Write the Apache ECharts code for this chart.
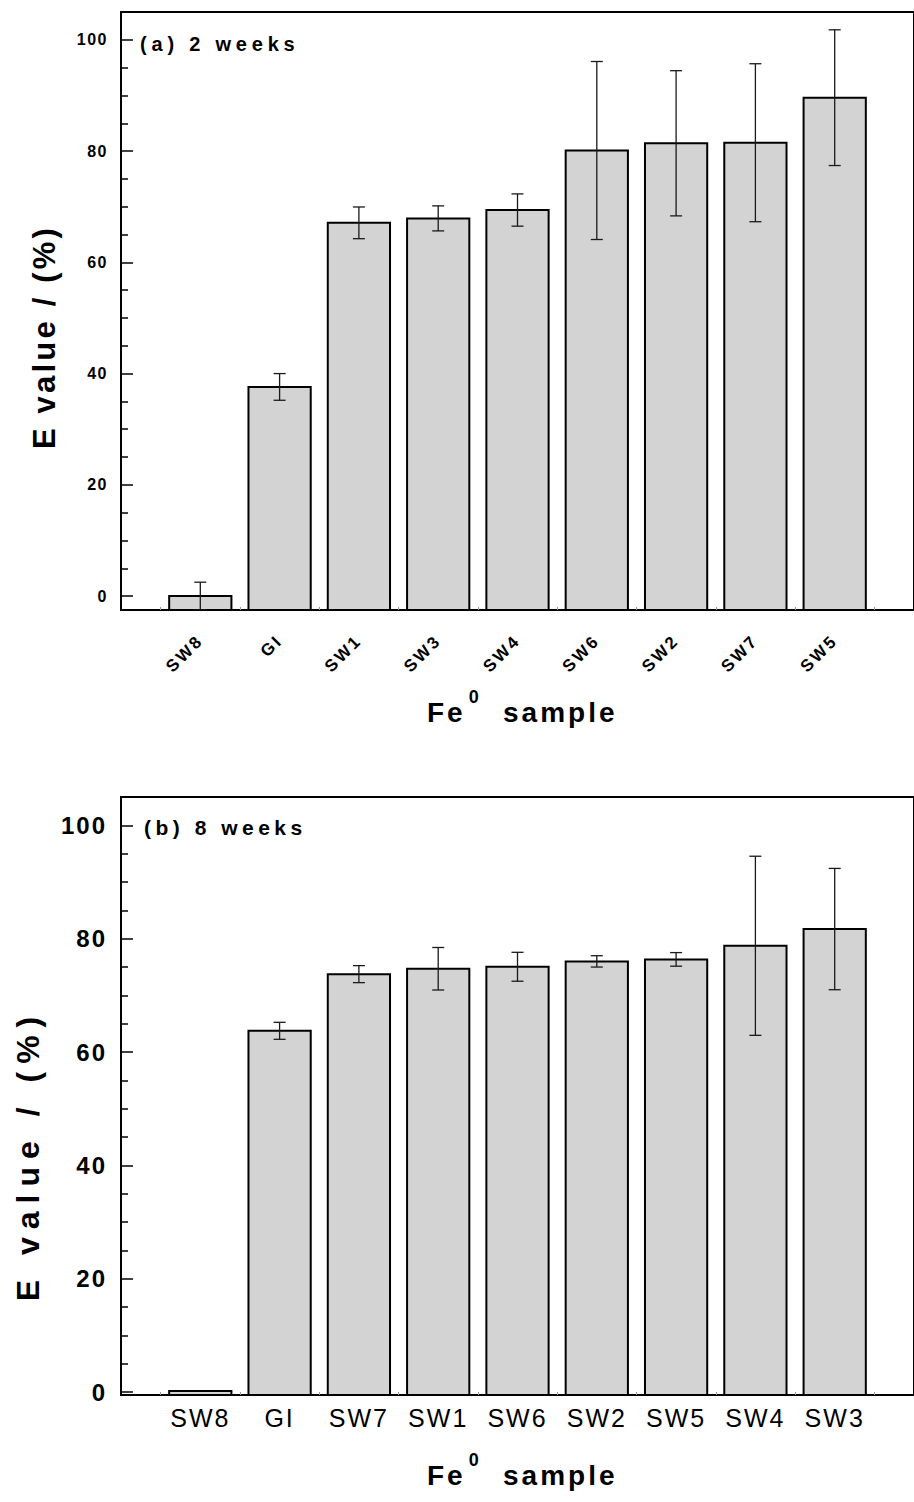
<!DOCTYPE html>
<html>
<head>
<meta charset="utf-8">
<script src="https://cdn.jsdelivr.net/npm/echarts@6.0.0/dist/echarts.min.js"></script>
<style>
html, body { margin: 0; padding: 0; background: #fff; }
#c { width: 914px; height: 1502px; }
#c text[style*="16px"] { letter-spacing: 1.5px; }
#c text[style*="24px"] { letter-spacing: 2px; }
#c text[style*="17px"] { letter-spacing: 2.5px; }
#c text[style*="28px"] { letter-spacing: 3px; }
#c text[style*="31px"] { letter-spacing: 3.2px; }
#c text[style*="32px"] { letter-spacing: 8px; }
#c text[style*="20px"] { letter-spacing: 4.8px; }
#c text[style*="21px"] { letter-spacing: 4.5px; }
#c text[style*="25px"] { letter-spacing: 2px; }
</style>
</head>
<body>
<div id="c"></div>
<script>
// ---- data ----
const categoriesA = ['SW8', 'GI', 'SW1', 'SW3', 'SW4', 'SW6', 'SW2', 'SW7', 'SW5'];
const valuesA = [0.0, 37.6, 67.1, 67.9, 69.4, 80.1, 81.4, 81.5, 89.6];
const errorsA = [2.5, 2.4, 2.85, 2.25, 2.9, 16.0, 13.05, 14.2, 12.2];

const categoriesB = ['SW8', 'GI', 'SW7', 'SW1', 'SW6', 'SW2', 'SW5', 'SW4', 'SW3'];
const valuesB = [0.2, 63.75, 73.75, 74.7, 75.05, 76.0, 76.35, 78.75, 81.7];
const errorsB = [0, 1.5, 1.5, 3.75, 2.55, 1.0, 1.2, 15.8, 10.7];

const yMajorTicks = [0, 20, 40, 60, 80, 100];
const yMinorTicks = [5, 10, 15, 25, 30, 35, 45, 50, 55, 65, 70, 75, 85, 90, 95];
const xSmallTicks = [0.5, 1, 1.5, 2, 2.5, 3, 3.5, 4, 4.5, 5, 5.5, 6, 6.5, 7, 7.5, 8, 8.5, 9, 9.5];

const titleA = '(a) 2 weeks';
const titleB = '(b) 8 weeks';
const yName = 'E value / (%)';

// ---- chart ----
const FONT = "'Liberation Sans', Arial, Helvetica, sans-serif";
const chart = echarts.init(document.getElementById('c'), null, { renderer: 'svg' });

const barPosA = categoriesA.map((_, i) => i + 1);
const barPosB = categoriesB.map((_, i) => i + 1);

function renderBar(params, api) {
  const x = api.value(0), v = api.value(1);
  const cs = params.coordSys;
  const p = api.coord([x, v]);
  const w = api.size([1, 0])[0] * 0.785;
  const bottom = cs.y + cs.height;
  return {
    type: 'rect',
    shape: { x: p[0] - w / 2, y: p[1], width: w, height: bottom - p[1] },
    style: { fill: '#d3d3d3', stroke: '#000', lineWidth: 2 }
  };
}

function renderErr(params, api) {
  const x = api.value(0), v = api.value(1), e = api.value(2);
  if (!e) return null;
  const t = api.coord([x, v + e]);
  const b = api.coord([x, v - e]);
  const hw = 6;
  const st = { stroke: '#1a1a1a', lineWidth: 1.3 };
  return {
    type: 'group',
    children: [
      { type: 'line', shape: { x1: t[0], y1: t[1], x2: b[0], y2: b[1] }, style: st },
      { type: 'line', shape: { x1: t[0] - hw, y1: t[1], x2: t[0] + hw, y2: t[1] }, style: st },
      { type: 'line', shape: { x1: b[0] - hw, y1: b[1], x2: b[0] + hw, y2: b[1] }, style: st }
    ]
  };
}

function xAxisCfg(gridIndex, cats, pos, rotated, nameGap) {
  return {
    gridIndex: gridIndex,
    type: 'value',
    min: 0,
    max: 10,
    axisLine: { show: true, onZero: false, lineStyle: { color: '#000', width: 2 } },
    axisTick: { show: true, inside: true, length: 3, customValues: xSmallTicks, lineStyle: { color: '#999', width: 1 } },
    axisLabel: rotated ? {
      customValues: pos,
      formatter: v => cats[Math.round(v) - 1],
      rotate: 45,
      margin: 28,
      fontSize: 17,
      fontWeight: 'bold',
      color: '#000',
      fontFamily: FONT
    } : {
      customValues: pos,
      formatter: v => cats[Math.round(v) - 1],
      margin: 10,
      fontSize: 25,
      color: '#000',
      fontFamily: FONT
    },
    splitLine: { show: false },
    name: '{f1|Fe}{s|0}{f2| sample}',
    nameLocation: 'middle',
    nameGap: nameGap,
    nameTextStyle: {
      rich: {
        f1: { fontSize: 28, fontWeight: 'bold', color: '#000', fontFamily: FONT, lineHeight: 48, padding: [0, 6, 0, 23] },
        s: { fontSize: 18, fontWeight: 'bold', color: '#000', fontFamily: FONT, lineHeight: 18, verticalAlign: 'top', padding: [0, 24, 0, 0] },
        f2: { fontSize: 28, fontWeight: 'bold', color: '#000', fontFamily: FONT, lineHeight: 48, padding: [0, 21, 0, 0] }
      }
    }
  };
}

function yAxisMajor(gridIndex, min, labelSize, margin, nameSize, nameGap, namePad) {
  return {
    gridIndex: gridIndex,
    type: 'value',
    min: min,
    max: 105,
    position: 'left',
    axisLine: { show: true, onZero: false, lineStyle: { color: '#000', width: 2 } },
    axisTick: { show: true, inside: true, length: 12, customValues: yMajorTicks, lineStyle: { color: '#000', width: 1.5 } },
    axisLabel: { customValues: yMajorTicks, fontSize: labelSize, fontWeight: 'bold', color: '#000', margin: margin, fontFamily: FONT },
    splitLine: { show: false },
    name: yName,
    nameLocation: 'middle',
    nameGap: nameGap,
    nameTextStyle: { fontSize: nameSize, fontWeight: 'bold', color: '#000', fontFamily: FONT, padding: [0, namePad, 0, 0] }
  };
}

function yAxisMinor(gridIndex, min) {
  return {
    gridIndex: gridIndex,
    type: 'value',
    min: min,
    max: 105,
    position: 'left',
    axisLine: { show: false, onZero: false },
    axisTick: { show: true, inside: true, length: 7, customValues: yMinorTicks, lineStyle: { color: '#000', width: 1.5 } },
    axisLabel: { show: false },
    splitLine: { show: false }
  };
}

const option = {
  animation: false,
  backgroundColor: '#fff',
  textStyle: { fontFamily: FONT },
  title: [
    { text: titleA, left: 140, top: 34, padding: 0, textStyle: { fontSize: 20, fontWeight: 'bold', color: '#000', fontFamily: FONT } },
    { text: titleB, left: 144, top: 817, padding: 0, textStyle: { fontSize: 21, fontWeight: 'bold', color: '#000', fontFamily: FONT } }
  ],
  grid: [
    { left: 121, top: 12, right: -10, bottom: 892, show: true, borderColor: '#000', borderWidth: 2, backgroundColor: 'transparent' },
    { left: 121, top: 797, right: -10, bottom: 107, show: true, borderColor: '#000', borderWidth: 2, backgroundColor: 'transparent' }
  ],
  xAxis: [
    xAxisCfg(0, categoriesA, barPosA, true, 78),
    xAxisCfg(1, categoriesB, barPosB, false, 56)
  ],
  yAxis: [
    yAxisMajor(0, -2.5, 16, 13, 31, 61, 52),
    yAxisMinor(0, -2.5),
    yAxisMajor(1, -0.5, 24, 14, 32, 77, 118),
    yAxisMinor(1, -0.5)
  ],
  series: [
    { type: 'custom', xAxisIndex: 0, yAxisIndex: 0, clip: true, renderItem: renderBar,
      data: valuesA.map((v, i) => [barPosA[i], v]) },
    { type: 'custom', xAxisIndex: 0, yAxisIndex: 0, clip: true, renderItem: renderErr,
      data: valuesA.map((v, i) => [barPosA[i], v, errorsA[i]]) },
    { type: 'custom', xAxisIndex: 1, yAxisIndex: 2, clip: true, renderItem: renderBar,
      data: valuesB.map((v, i) => [barPosB[i], v]) },
    { type: 'custom', xAxisIndex: 1, yAxisIndex: 2, clip: true, renderItem: renderErr,
      data: valuesB.map((v, i) => [barPosB[i], v, errorsB[i]]) }
  ]
};

chart.setOption(option);
</script>
</body>
</html>
